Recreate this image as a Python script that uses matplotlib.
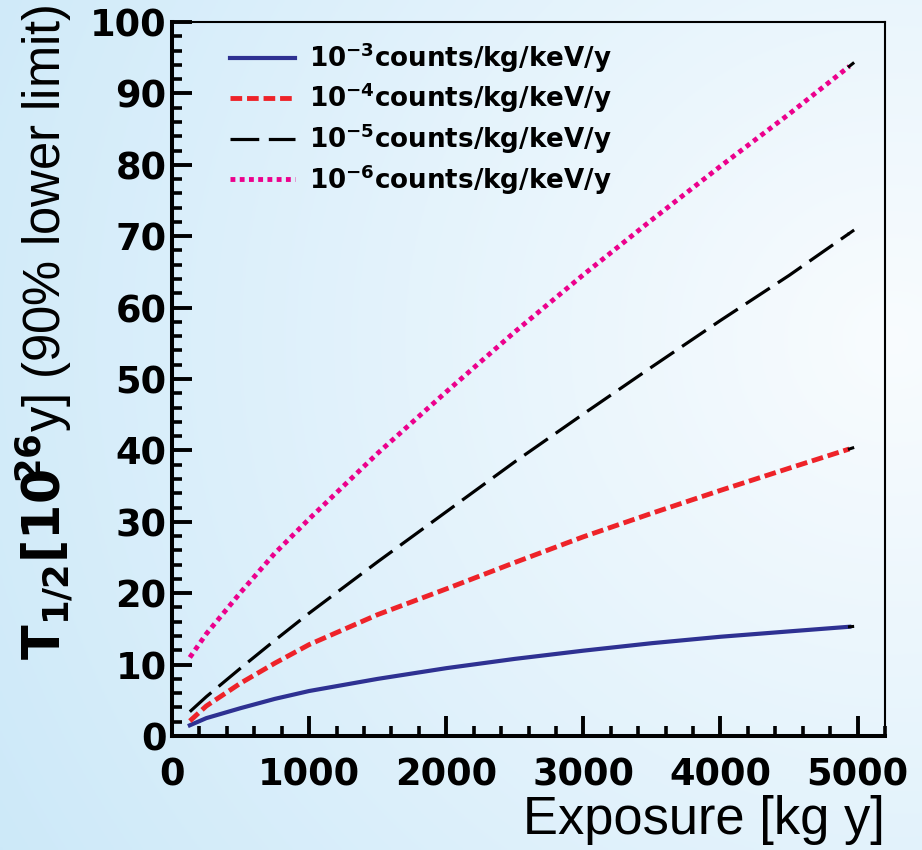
import numpy as np
import matplotlib
matplotlib.use("Agg")
import matplotlib.pyplot as plt
from matplotlib.ticker import MultipleLocator

# ==========================================
# DATA
# ==========================================

exposure = [130, 250, 500, 750, 1000, 1500, 2000, 2500, 3000, 3500, 4000, 4500, 4940]

t_bkg_1e3 = [1.5, 2.5, 3.9, 5.2, 6.3, 8.0, 9.5, 10.8, 11.95, 13.0, 13.9, 14.65, 15.3]
t_bkg_1e4 = [2.1, 4.2, 7.4, 10.2, 12.8, 17.0, 20.6, 24.3, 27.9, 31.2, 34.4, 37.5, 40.2]
t_bkg_1e5 = [3.4, 5.5, 9.5, 13.4, 17.2, 24.4, 31.4, 38.4, 45.1, 51.7, 58.2, 64.5, 70.4]
t_bkg_1e6 = [11.0, 14.3, 20.1, 25.6, 30.4, 39.6, 48.2, 56.6, 64.6, 72.3, 79.8, 87.1, 93.8]

labels = [
    r"10$^{\mathbf{-3}}$counts/kg/keV/y",
    r"10$^{\mathbf{-4}}$counts/kg/keV/y",
    r"10$^{\mathbf{-5}}$counts/kg/keV/y",
    r"10$^{\mathbf{-6}}$counts/kg/keV/y",
]

x_ticks = [0, 1000, 2000, 3000, 4000, 5000]
y_ticks = [0, 10, 20, 30, 40, 50, 60, 70, 80, 90, 100]

# ==========================================
# STYLE
# ==========================================

plt.rcParams["font.family"] = ["DejaVu Sans"]
plt.rcParams["mathtext.fontset"] = "custom"
plt.rcParams["mathtext.rm"] = "Liberation Sans"
plt.rcParams["mathtext.bf"] = "DejaVu Sans:bold"
plt.rcParams["mathtext.it"] = "Liberation Sans:italic"

W, H = 922, 850
fig = plt.figure(figsize=(W / 100, H / 100), dpi=100)

# light blue slide-style background
bg = fig.add_axes([0, 0, 1, 1], zorder=-10)
gx, gy = np.meshgrid(np.linspace(0, 1, 300), np.linspace(0, 1, 300))
dist = np.sqrt((gx - 0.97) ** 2 + ((gy - 0.6) * 0.95) ** 2)
t = np.clip(dist / 1.15, 0, 1)[..., None]
c_in = np.array([0.975, 0.988, 0.997])
c_out = np.array([0.80, 0.912, 0.975])
bg.imshow(c_in * (1 - t) + c_out * t, extent=[0, 1, 0, 1], origin="lower", aspect="auto")
bg.axis("off")

ax = fig.add_axes([172 / W, 114 / H, 713 / W, 714 / H])
ax.set_facecolor("none")

# ==========================================
# CURVES
# ==========================================

styles = [
    dict(color="#2e3192", lw=3.0, ls="-"),
    dict(color="#ee2329", lw=3.5, ls=(0, (2.4, 1.0))),
    dict(color="black", lw=2.3, ls=(0, (9, 3))),
    dict(color="#ec008c", lw=3.5, ls=(0, (1, 0.9))),
]
series = [t_bkg_1e3, t_bkg_1e4, t_bkg_1e5, t_bkg_1e6]

for vals, st, lab in zip(series, styles, labels):
    ax.plot(exposure, vals, label=lab, **st)
    # short black tail at the end of each graph
    slope = (vals[-1] - vals[-2]) / (exposure[-1] - exposure[-2])
    xe = np.array([exposure[-1] - 10, exposure[-1] + 35])
    ax.plot(xe, vals[-1] + slope * (xe - exposure[-1]), color="black", lw=2.2,
            solid_capstyle="butt")

# ==========================================
# AXES
# ==========================================

ax.set_xlim(0, 5200)
ax.set_ylim(0, 100)
ax.set_xticks(x_ticks)
ax.set_yticks(y_ticks)
ax.xaxis.set_minor_locator(MultipleLocator(200))
ax.yaxis.set_minor_locator(MultipleLocator(2))

ax.tick_params(which="both", direction="in", top=False, right=False,
               bottom=True, left=True, color="black")
ax.tick_params(which="major", length=14.5, width=2.8, labelsize=26.5)
ax.tick_params(axis="x", which="major", pad=15)
ax.tick_params(axis="y", which="major", pad=4)
ax.tick_params(which="minor", length=7.5, width=2.6)
for lbl in ax.get_xticklabels() + ax.get_yticklabels():
    lbl.set_fontweight("bold")

for side in ["left", "bottom"]:
    ax.spines[side].set_linewidth(2.9)
for side in ["top", "right"]:
    ax.spines[side].set_linewidth(1.5)

ax.set_xlabel("Exposure [kg y]", fontsize=37.8, fontfamily="Liberation Sans", loc="right")
ax.xaxis.set_label_coords(1.0, -0.083)

ax.set_ylabel(r"$\mathbf{T_{1/2}[10^{\!\!\!26}}\mathrm{y]\ (90\%\ lower\ limit)}$", fontsize=36.5)
ax.yaxis.set_label_coords(-0.136, 0.566)

ax.legend(loc="upper left", bbox_to_anchor=(230 / W, (H - 41) / H), bbox_transform=fig.transFigure,
          frameon=False, borderpad=0, borderaxespad=0, handlelength=2.5, handletextpad=0.53,
          labelspacing=0.26, prop={"family": "DejaVu Sans", "weight": "bold", "size": 18.8})

fig.savefig("out.png", dpi=100)
